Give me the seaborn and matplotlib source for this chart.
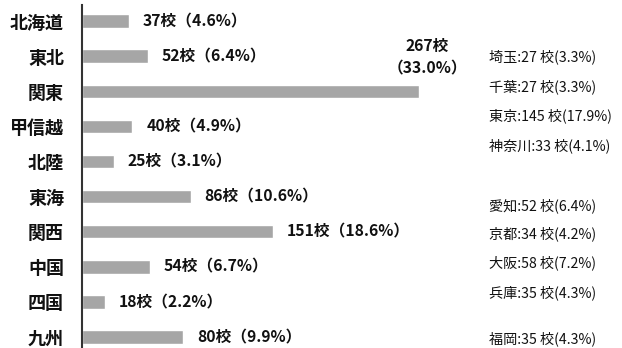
import matplotlib
matplotlib.use("Agg")
import matplotlib.pyplot as plt
import seaborn as sns
import pandas as pd

regions = ['北海道', '東北', '関東', '甲信越', '北陸', '東海', '関西', '中国', '四国', '九州']
counts = [37, 52, 267, 40, 25, 86, 151, 54, 18, 80]
shares = [4.6, 6.4, 33.0, 4.9, 3.1, 10.6, 18.6, 6.7, 2.2, 9.9]

prefs = ['埼玉', '千葉', '東京', '神奈川', '愛知', '京都', '大阪', '兵庫', '福岡']
pref_counts = [27, 27, 145, 33, 52, 34, 58, 35, 35]
pref_shares = [3.3, 3.3, 17.9, 4.1, 6.4, 4.2, 7.2, 4.3, 4.3]
pref_ypx = [57, 87, 116, 146, 206, 234, 263, 293, 339]

sns.set_theme(style="white")
plt.rcParams['font.family'] = ['Noto Sans CJK JP', 'DejaVu Sans']

df = pd.DataFrame({'region': regions, 'count': counts})

W, H = 622, 348
fig = plt.figure(figsize=(W / 100, H / 100), dpi=100)
ax = fig.add_axes([82 / W, 0, (W - 82) / W, 343 / H])

sns.barplot(data=df, x='count', y='region', orient='h', color='#a6a6a6',
            saturation=1, width=0.38, ax=ax)

ax.set_xlim(0, (W - 82) / 1.262)
ax.set_ylim(9.31, -0.456)
ax.set_xlabel('')
ax.set_ylabel('')
ax.set_xticks([])
for s in ['top', 'right', 'bottom']:
    ax.spines[s].set_visible(False)
ax.spines['left'].set_color('#333333')
ax.spines['left'].set_linewidth(1.5)
ax.tick_params(axis='y', length=0, pad=13)
for lab in ax.get_yticklabels():
    lab.set_fontsize(13)
    lab.set_fontweight('bold')
    lab.set_color('#111111')

for i, (c, s) in enumerate(zip(counts, shares)):
    if regions[i] == '関東':
        ax.annotate(f'{c}校\n（{s:.1f}%）', xy=(c, i), xytext=(6, 11),
                    textcoords='offset points', ha='center', va='bottom',
                    fontsize=11.3, fontweight='bold', color='#111111',
                    linespacing=1.45)
    else:
        ax.annotate(f'{c}校（{s:.1f}%）', xy=(c, i), xytext=(10, 0),
                    textcoords='offset points', ha='left', va='center',
                    fontsize=11.3, fontweight='bold', color='#111111')

for p, c, s, y in zip(prefs, pref_counts, pref_shares, pref_ypx):
    fig.text(489 / W, 1 - y / H, f'{p}:{c} 校({s:.1f}%)', ha='left',
             va='center', fontsize=10.2, color='#111111')

fig.savefig('out.png', dpi=100)
